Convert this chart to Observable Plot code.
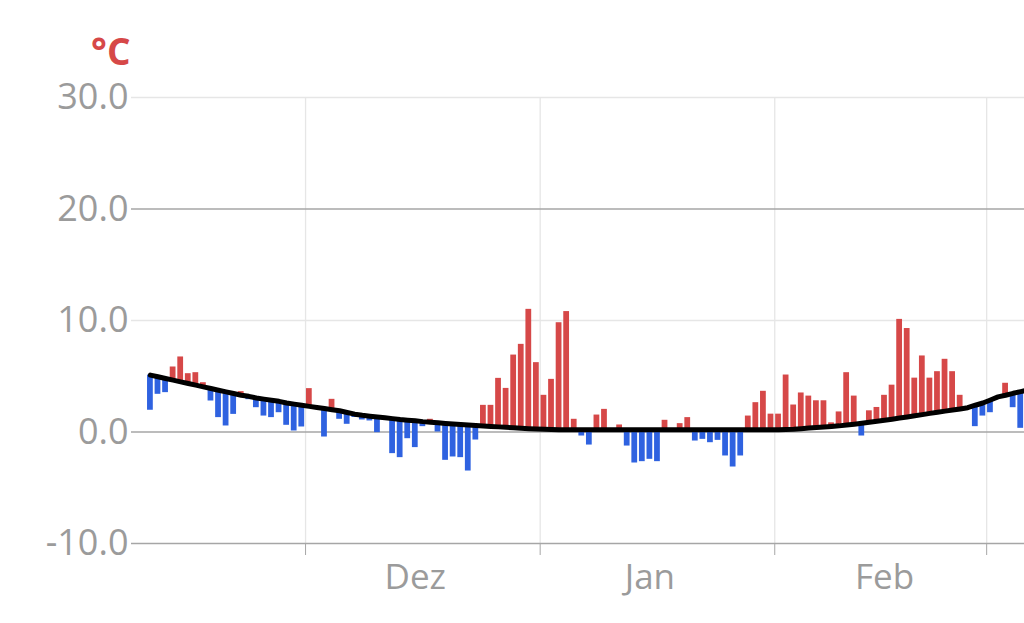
<!DOCTYPE html>
<html>
<head>
<meta charset="utf-8">
<script src="https://cdn.jsdelivr.net/npm/d3@7"></script>
<script src="https://cdn.jsdelivr.net/npm/@observablehq/plot@0.6"></script>
<style>
  body { margin: 0; background: #fff; }
  #chart svg { display: block; }
</style>
</head>
<body>
<div id="chart"></div>
<script>
// Daily temperatures (°C), from 10 Nov to 5 Mar
const tempsNov = [1.95, 3.38, 3.53, 5.83, 6.73, 5.23, 5.32, 4.42, 2.78, 1.29, 0.54, 1.58, 3.62, 2.9, 2.18, 1.43, 1.29, 1.73, 0.6, 0.09, 0.45];
const tempsDec = [3.89, 2.27, -0.45, 2.93, 1.14, 0.69, 1.3, 1.08, 0.99, -0.06, 1.28, -1.94, -2.3, -0.6, -1.4, 0.48, 1.14, 0.0, -2.54, -2.24, -2.3, -3.5, -0.72, 2.39, 2.39, 4.81, 3.91, 6.9, 7.86, 11.0, 6.22];
const tempsJan = [3.29, 4.72, 9.8, 10.8, 1.14, -0.36, -1.17, 1.52, 2.03, 0.2, 0.63, -1.26, -2.78, -2.66, -2.45, -2.66, 1.05, 0.2, 0.75, 1.29, -0.81, -0.66, -0.96, -0.75, -2.15, -3.14, -2.15, 1.43, 2.63, 3.65, 1.6];
const tempsFeb = [1.6, 5.11, 2.42, 3.5, 3.22, 2.8, 2.8, 0.82, 1.8, 5.32, 3.22, -0.36, 1.9, 2.2, 3.29, 4.2, 10.1, 9.28, 4.83, 6.82, 4.83, 5.41, 6.52, 5.41, 3.29, 2.09, 0.48, 1.43];
const tempsMar = [1.73, 3.15, 4.37, 2.18, 0.33];

// Long-term mean (black line), from 10 Nov to 6 Mar
const normalsNov = [5.1, 4.95, 4.8, 4.65, 4.5, 4.35, 4.2, 4.05, 3.9, 3.75, 3.6, 3.45, 3.3, 3.2, 3.05, 2.95, 2.85, 2.75, 2.6, 2.5, 2.4];
const normalsDec = [2.3, 2.2, 2.1, 2.0, 1.9, 1.75, 1.6, 1.5, 1.42, 1.35, 1.28, 1.2, 1.12, 1.06, 1.0, 0.93, 0.88, 0.82, 0.77, 0.72, 0.67, 0.62, 0.58, 0.54, 0.5, 0.46, 0.42, 0.38, 0.34, 0.3, 0.27];
const normalsJan = [0.24, 0.22, 0.2, 0.2, 0.2, 0.2, 0.2, 0.2, 0.2, 0.2, 0.2, 0.2, 0.2, 0.2, 0.2, 0.2, 0.2, 0.2, 0.2, 0.2, 0.2, 0.2, 0.2, 0.2, 0.2, 0.2, 0.2, 0.2, 0.2, 0.2, 0.2];
const normalsFeb = [0.2, 0.22, 0.25, 0.3, 0.35, 0.4, 0.45, 0.5, 0.55, 0.62, 0.7, 0.78, 0.87, 0.96, 1.05, 1.15, 1.25, 1.35, 1.45, 1.56, 1.67, 1.77, 1.87, 1.97, 2.07, 2.18, 2.4, 2.6];
const normalsMar = [2.87, 3.15, 3.3, 3.47, 3.62, 3.77];

const firstDay = "2022-11-10";
const domainStart = "2022-11-08";
const domainEnd = "2023-03-06";

const yTicks = [-10, 0, 10, 20, 30];
const yGridLight = [30, 10];
const yGridDark = [20, 0, -10];

const monthStarts = ["2022-12-01", "2023-01-01", "2023-02-01", "2023-03-01"];
const monthLabels = ["Dez", "Jan", "Feb"];
const monthLabelDates = ["2022-12-15T12:00Z", "2023-01-15T12:00Z", "2023-02-15T12:00Z"];

const colorAbove = "#d64848";
const colorBelow = "#2f62e0";

// ---- build tables ----
const temps = [...tempsNov, ...tempsDec, ...tempsJan, ...tempsFeb, ...tempsMar];
const normals = [...normalsNov, ...normalsDec, ...normalsJan, ...normalsFeb, ...normalsMar];
const start = new Date(firstDay + "T00:00Z");
const bars = temps.map((t, i) => {
  const d = d3.utcDay.offset(start, i);
  return { x1: d, x2: d3.utcDay.offset(d, 1), temp: t, normal: normals[i] };
});
const linePts = normals.map((n, i) => ({ t: d3.utcHour.offset(d3.utcDay.offset(start, i), 12), normal: n }));
const mStarts = monthStarts.map(s => new Date(s + "T00:00Z"));
const mLabelDates = monthLabelDates.map(s => new Date(s));

const chart = Plot.plot({
  width: 1024,
  height: 623,
  marginTop: 97,
  marginBottom: 80,
  marginLeft: 131,
  marginRight: 0,
  style: { fontFamily: "'Open Sans', 'Noto Sans', sans-serif", fontSize: "36px", color: "#9b9b9b", background: "#fff" },
  x: { type: "utc", domain: [new Date(domainStart + "T00:00Z"), new Date(domainEnd + "T00:00Z")] },
  y: { domain: [-10, 30] },
  marks: [
    Plot.ruleY(yGridLight, { stroke: "#e6e6e6", strokeWidth: 1.3 }),
    Plot.ruleX(mStarts, { y1: -10, y2: 30, stroke: "#e6e6e6", strokeWidth: 1.3 }),
    Plot.ruleY(yGridDark, { stroke: "#a6a6a6", strokeWidth: 1.3 }),
    Plot.rectY(bars, {
      x1: "x1", x2: "x2", y1: "normal", y2: "temp",
      fill: d => d.temp >= d.normal ? colorAbove : colorBelow,
      insetLeft: 0.9, insetRight: 0.9
    }),
    Plot.line(linePts, { x: "t", y: "normal", stroke: "#000", strokeWidth: 5, strokeLinecap: "round", strokeLinejoin: "round" }),
    Plot.axisY(yTicks, { tickSize: 0, tickPadding: 3, tickFormat: d => d.toFixed(1), label: null }),
    Plot.axisX(mStarts, { tickSize: 12, stroke: "#a6a6a6", tickFormat: () => "", label: null }),
    Plot.axisX(mLabelDates, { tickSize: 0, tickPadding: 21, fontSize: 35, tickFormat: d => monthLabels[mLabelDates.findIndex(m => +m === +d)], label: null }),
    Plot.text(["°C"], { frameAnchor: "top-left", text: d => d, dx: -1, dy: -44, textAnchor: "end", lineAnchor: "middle", fill: "#d64848", fontWeight: "bold", fontSize: 37 })
  ]
});
document.getElementById("chart").appendChild(chart);
</script>
</body>
</html>
